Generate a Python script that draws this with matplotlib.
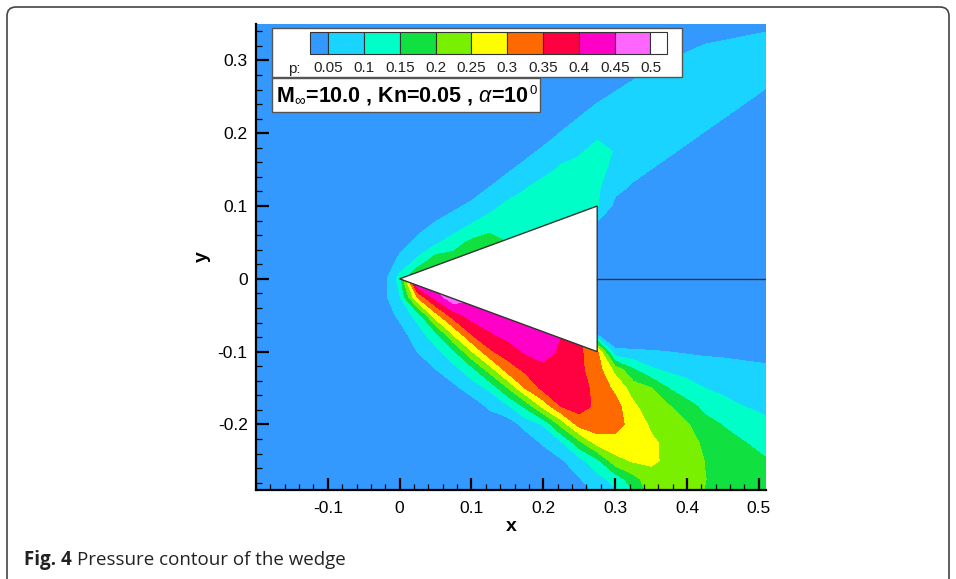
import numpy as np
import matplotlib
matplotlib.use("Agg")
import matplotlib.pyplot as plt
from matplotlib.patches import Polygon, Rectangle, FancyBboxPatch
from matplotlib.ticker import MultipleLocator

# ---------------- data ----------------
# sample grid (pressure, in units of 0.01)
x_grid = [-0.2, -0.175, -0.15, -0.125, -0.1, -0.075, -0.05, -0.025, 0.0, 0.025,
          0.05, 0.075, 0.1, 0.125, 0.15, 0.175, 0.2, 0.225, 0.25, 0.275,
          0.3, 0.325, 0.35, 0.375, 0.4, 0.425, 0.45, 0.475, 0.5, 0.525]
y_upper = [0.35, 0.325, 0.3, 0.275, 0.25, 0.225, 0.2, 0.175, 0.15, 0.125,
           0.1, 0.075, 0.05, 0.025, 0.0]
y_lower = [0.0, -0.025, -0.05, -0.075, -0.1, -0.125, -0.15, -0.175, -0.2,
           -0.225, -0.25, -0.275, -0.3]

p_upper_pct = [
    [2]*25 + [2.76, 3.16, 3.56, 3.96, 4.36],
    [2]*23 + [2.93, 3.9, 4.76, 5.16, 5.56, 5.96, 6.36],
    [2]*21 + [2.81, 3.95, 4.93, 5.9, 6.76, 7.16, 7.56, 7.96, 7.23],
    [2]*19 + [2.29, 3.55, 4.81, 5.95, 6.93, 7.9, 8.76, 9.16, 8.01, 6.62, 5.23],
    [2]*18 + [2.76, 4.29, 5.55, 6.81, 7.95, 8.93, 9.5, 8.78, 7.4, 6.01, 4.62, 3.23],
    [2]*17 + [3.16, 4.76, 6.29, 7.55, 8.81, 9.5, 9.5, 8.17, 6.78, 5.4, 4.01, 2.62, 2],
    [2]*16 + [3.56, 5.16, 6.76, 8.29, 9.5, 9.5, 8.94, 7.56, 6.17, 4.78, 3.4, 2.01, 2, 2],
    [2]*14 + [2.56, 4.06, 5.56, 7.16, 8.95, 12.7, 9.5, 8.34, 6.94, 5.56, 4.17, 2.78,
              2, 2, 2, 2],
    [2]*13 + [3.06, 4.56, 6.06, 7.56, 11.05, 13, 11.95, 8.2, 6.34, 4.94, 3.56, 2.17,
              2, 2, 2, 2, 2],
    [2]*11 + [2.43, 3.56, 5.06, 6.56, 9.55, 13, 13, 13, 10.75, 6.2, 4.34, 2.94] + [2]*7,
    [2]*10 + [3.28, 4.43, 5.56, 7.75, 11.5, 13, 13, 13, 13, 10.3, 3.72, 2.34] + [2]*8,
    [2]*9 + [3.77, 5.28, 6.43, 10.1, 13, 13, 13, 13, 13, 13, 4] + [2]*10,
    [2]*8 + [3.75, 5.77, 8.8, 13, 16, 17, 15, 13, 13, 13, 13, 4] + [2]*10,
    [2]*8 + [5.75, 11, 18, 17, 17, 16, 13, 13, 13, 13, 13, 4] + [2]*10,
    [2]*8 + [12, 22, 18, 17, 17, 16, 13, 13, 13, 13, 13, 3] + [2]*10,
]

p_lower_pct = [
    [2]*8 + [12] + [49, 49, 49, 46, 44, 43, 42.5, 42.5, 40, 36] + [3] + [2]*10,
    [2]*7 + [3] + [9.4, 30.5, 42] + [49, 46, 44, 43, 42.5, 42.5, 40, 36] + [3] + [2]*10,
    [2]*8 + [6, 12, 28, 37.5, 42, 43] + [43, 42.5, 42.5, 40, 36] + [3] + [2]*10,
    [2]*8 + [3.2, 7.5, 13.75, 26, 35.5, 39.5, 41.5, 42, 42.5] + [40, 36] + [3] + [2]*10,
    [2]*9 + [5.1, 8.3, 14, 24.5, 34, 37.6, 40.5, 42, 39, 36, 31]
          + [5.7, 5.4, 5.25, 4.95, 4.5, 4.2, 4.1, 3.9, 3.6, 3.4],
    [2]*10 + [4.8, 8, 12.8, 22, 32, 36, 38.5, 38, 36, 32.4]
           + [23.5, 15.7, 10.8, 9.0, 8, 7.2, 6.7, 6.2, 5.9, 5.6],
    [2]*11 + [3.8, 7.3, 10.9, 19.6, 30.2, 36.5, 38, 37, 33.4]
           + [28.8, 22.6, 20.1, 14.75, 12, 9.9, 8.9, 8.2, 7.6, 7.1],
    [2]*13 + [5.8, 9.0, 16, 26.5, 35.2, 37, 33.9]
           + [32, 26, 22, 20.3, 16.7, 13.75, 11.6, 10.1, 9.3, 8.7],
    [2]*14 + [2.2, 6.6, 10.4, 21.5, 32, 33]
           + [31.5, 28.5, 24.1, 22, 20.5, 16.5, 14.8, 12.8, 11.4, 10.1],
    [2]*16 + [5.6, 9.3, 18.2, 27]
           + [28.4, 28.5, 26, 23.5, 22, 19, 16.5, 15.5, 13.8, 12.6],
    [2]*17 + [4.4, 8.1, 13.5]
           + [23.1, 25.5, 25.8, 24, 22.5, 19.9, 18, 17, 16, 14.5],
    [2]*18 + [4.6, 8.3]
           + [11.7, 18, 23, 23, 22, 20.1, 18.5, 17.5, 17, 16.5],
    [2]*19 + [5.05]
           + [8, 13, 21.5, 22, 21.5, 19.8, 18.5, 17.5, 17, 17],
]

band_levels = [-0.01, 0.05, 0.1, 0.15, 0.2, 0.25, 0.3, 0.35, 0.4, 0.45, 0.5, 1.0]
band_colors = ['#3399ff', '#18d4ff', '#00ffc8', '#10e040', '#78f000', '#ffff00',
               '#ff6a00', '#ff0040', '#ff00c8', '#ff66ff', '#ffffff']
legend_labels = ['0.05', '0.1', '0.15', '0.2', '0.25', '0.3', '0.35', '0.4', '0.45', '0.5']

wedge_x = [0.0, 0.275, 0.275]
wedge_y = [0.0, 0.1, -0.1]

xtick_vals = [-0.1, 0.0, 0.1, 0.2, 0.3, 0.4, 0.5]
xtick_labels = ['-0.1', '0', '0.1', '0.2', '0.3', '0.4', '0.5']
ytick_vals = [-0.2, -0.1, 0.0, 0.1, 0.2, 0.3]
ytick_labels = ['-0.2', '-0.1', '0', '0.1', '0.2', '0.3']

# ---------------- figure ----------------
plt.rcParams['font.family'] = ['Liberation Sans', 'DejaVu Sans']
plt.rcParams['mathtext.fontset'] = 'custom'
plt.rcParams['mathtext.rm'] = 'Liberation Sans'
plt.rcParams['mathtext.it'] = 'Liberation Sans:italic'
plt.rcParams['mathtext.bf'] = 'Liberation Sans:bold'

W, H = 956, 579
fig = plt.figure(figsize=(W / 100, H / 100), dpi=100)
fig.patch.set_facecolor('white')

ax = fig.add_axes([256 / W, 1 - 490 / H, 510 / W, 466 / H])
ax.set_facecolor(band_colors[0])

XU, YU = np.meshgrid(x_grid, y_upper)
XL, YL = np.meshgrid(x_grid, y_lower)
ax.contourf(XU, YU, np.array(p_upper_pct) / 100.0, levels=band_levels, colors=band_colors)
ax.contourf(XL, YL, np.array(p_lower_pct) / 100.0, levels=band_levels, colors=band_colors)

ax.add_patch(Polygon(list(zip(wedge_x, wedge_y)), closed=True, facecolor='white',
                     edgecolor='#333333', linewidth=1.0, zorder=3))
ax.plot([wedge_x[1], 0.51], [0, 0], color='#333333', linewidth=1.0, zorder=3)

ax.set_xlim(-0.2, 0.51)
ax.set_ylim(-0.29, 0.35)
ax.set_xticks(xtick_vals)
ax.set_xticklabels(xtick_labels)
ax.set_yticks(ytick_vals)
ax.set_yticklabels(ytick_labels)
ax.xaxis.set_minor_locator(MultipleLocator(0.02))
ax.yaxis.set_minor_locator(MultipleLocator(0.02))
ax.tick_params(which='major', direction='in', length=9, width=1.6, labelsize=12.5,
               pad=6, color='black', top=False, right=False)
ax.tick_params(axis='x', which='major', pad=8)
ax.tick_params(which='minor', direction='in', length=4, width=0.9, color='black',
               top=False, right=False)
for s in ['top', 'right']:
    ax.spines[s].set_visible(False)
for s in ['left', 'bottom']:
    ax.spines[s].set_linewidth(1.6)
    ax.spines[s].set_zorder(4)
ax.set_xlabel('x', fontsize=14, fontweight='bold')
ax.set_ylabel('y', fontsize=14, fontweight='bold')
ax.xaxis.set_label_coords(0.5, -0.06)
ax.yaxis.set_label_coords(-0.088, 0.5)

# ---------------- overlay: legend, text box, caption, frame ----------------
ov = fig.add_axes([0, 0, 1, 1], zorder=5)
ov.set_xlim(0, W)
ov.set_ylim(H, 0)
ov.set_axis_off()
renderer = fig.canvas.get_renderer()

ov.add_patch(Rectangle((272, 28), 410, 49, facecolor='white', edgecolor='#555555', lw=1.0))
half, full, x0, top, hh = 18.3, 35.8, 310.0, 32.0, 21.5
edges = [x0] + [x0 + half + k * full for k in range(len(legend_labels))]
edges.append(edges[-1] + 17)
for i, c in enumerate(band_colors):
    ov.add_patch(Rectangle((edges[i], top), edges[i + 1] - edges[i], hh,
                           facecolor=c, edgecolor='#333333', lw=0.8))
ov.text(294, 68.5, 'p:', fontsize=11, ha='center', va='center', color='#222222')
for k, lab in enumerate(legend_labels):
    ov.text(edges[k + 1], 68.5, lab, fontsize=11, ha='center', va='center', color='#222222')

ov.add_patch(Rectangle((272, 78), 268, 34, facecolor='white', edgecolor='#555555', lw=1.0))
tm = ov.text(276, 96, r'M$_{\infty}$=10.0 , Kn=0.05 , $\alpha$=10', fontsize=15.5,
             fontweight='bold', ha='left', va='center', color='black')
bbm = tm.get_window_extent(renderer)
ov.text(bbm.x1 + 1, 84.5, '0', fontsize=9.5, ha='left', va='top', color='black')

ov.add_patch(FancyBboxPatch((7, 7), 942, 582, boxstyle='round,pad=0,rounding_size=9',
                            facecolor='none', edgecolor='#444444', lw=1.2, clip_on=False))

t1 = ov.text(24, 560, 'Fig. 4', fontsize=13.5, fontweight='bold', family='Open Sans',
             ha='left', va='center', color='#222222')
bb = t1.get_window_extent(renderer)
ov.text(bb.x1 + 5, 560, 'Pressure contour of the wedge', fontsize=13.5,
        family='Open Sans', ha='left', va='center', color='#222222')

fig.savefig('out.png', dpi=100)
